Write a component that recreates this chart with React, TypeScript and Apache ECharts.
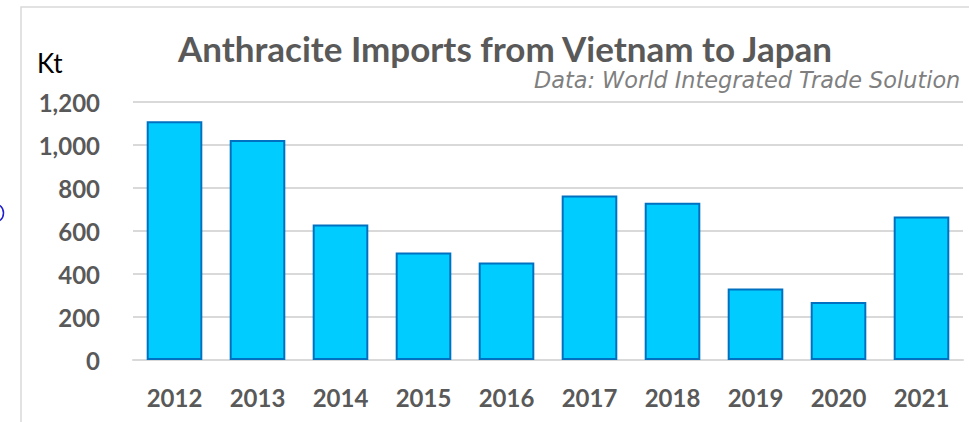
import React, { useEffect, useRef } from "react";
import * as echarts from "echarts";

const years = ["2012", "2013", "2014", "2015", "2016", "2017", "2018", "2019", "2020", "2021"];
const importsKt = [1110, 1023, 630, 500, 454, 765, 731, 332, 270, 667];
const yTicks = { min: 0, max: 1200, interval: 200 };

const titleText = "Anthracite Imports from Vietnam to Japan";
const subtitleText = "Data: World Integrated Trade Solution";
const unitText = "Kt";

export default function App() {
  const ref = useRef<HTMLDivElement>(null);
  useEffect(() => {
    if (!ref.current) return;
    const chart = echarts.init(ref.current, null, { renderer: "svg" });
    chart.setOption({
      animation: false,
      backgroundColor: "#ffffff",
      grid: { left: 133, right: 6, top: 102, bottom: 62 },
      graphic: [
        {
          type: "rect",
          shape: { x: 21, y: 7, width: 1000, height: 500 },
          style: { fill: "none", stroke: "#d9d9d9", lineWidth: 1.5 },
          silent: true,
        },
        {
          type: "circle",
          shape: { cx: -6, cy: 213, r: 9.5 },
          style: { fill: "none", stroke: "#1f1fd0", lineWidth: 1.5 },
          silent: true,
        },
        {
          type: "text",
          x: 505,
          y: 48,
          style: {
            text: titleText,
            font: "bold 35px Lato, 'Noto Sans', sans-serif",
            fill: "#595959",
            textAlign: "center",
            textVerticalAlign: "middle",
          },
        },
        {
          type: "text",
          x: 534,
          y: 80,
          style: {
            text: subtitleText,
            font: "italic 22.4px 'DejaVu Sans', sans-serif",
            fill: "#7f7f7f",
            textAlign: "left",
            textVerticalAlign: "middle",
          },
        },
        {
          type: "text",
          x: 37,
          y: 63,
          style: {
            text: unitText,
            font: "26px Lato, 'Noto Sans', sans-serif",
            fill: "#000000",
            textAlign: "left",
            textVerticalAlign: "middle",
          },
        },
      ],
      xAxis: {
        type: "category",
        data: years,
        axisLine: { show: true, lineStyle: { color: "#d9d9d9", width: 2 } },
        axisTick: { show: false },
        axisLabel: {
          color: "#595959",
          fontFamily: "Lato, 'Noto Sans', sans-serif",
          fontWeight: "bold",
          fontSize: 24,
          margin: 25,
        },
      },
      yAxis: {
        type: "value",
        min: yTicks.min,
        max: yTicks.max,
        interval: yTicks.interval,
        axisLine: { show: false },
        axisTick: { show: false },
        splitLine: { lineStyle: { color: "#d9d9d9", width: 2 } },
        axisLabel: {
          color: "#595959",
          fontFamily: "Lato, 'Noto Sans', sans-serif",
          fontWeight: "bold",
          fontSize: 24,
          margin: 33,
          formatter: (v: number) => v.toLocaleString("en-US"),
        },
      },
      series: [
        {
          type: "bar",
          data: importsKt,
          barCategoryGap: "33%",
          itemStyle: { color: "#00ccff", borderColor: "#0070c0", borderWidth: 2 },
        },
      ],
    });
    return () => chart.dispose();
  }, []);
  return <div ref={ref} style={{ width: 969, height: 422, position: "absolute", left: 0, top: 0 }} />;
}
